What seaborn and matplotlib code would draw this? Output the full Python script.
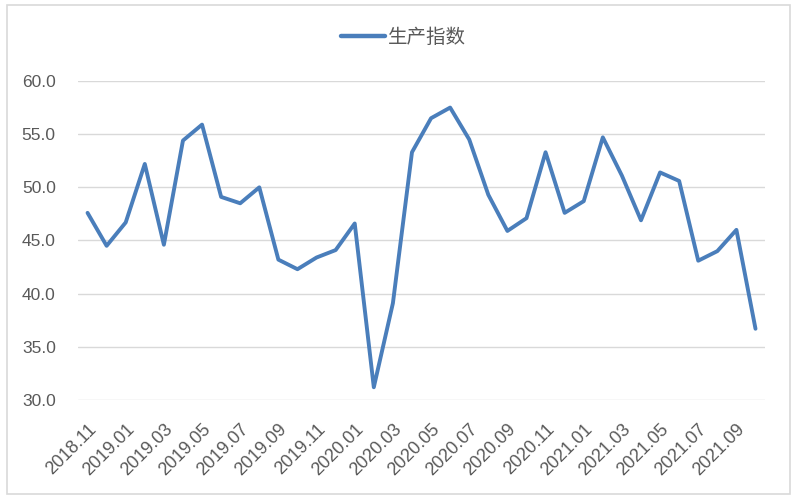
import numpy as np
import pandas as pd
import matplotlib.pyplot as plt
import seaborn as sns
from matplotlib.patches import Rectangle
from matplotlib.transforms import ScaledTranslation

# monthly index, 2018.11 - 2021.10
months = ['2018.11', '2018.12',
          '2019.01', '2019.02', '2019.03', '2019.04', '2019.05', '2019.06',
          '2019.07', '2019.08', '2019.09', '2019.10', '2019.11', '2019.12',
          '2020.01', '2020.02', '2020.03', '2020.04', '2020.05', '2020.06',
          '2020.07', '2020.08', '2020.09', '2020.10', '2020.11', '2020.12',
          '2021.01', '2021.02', '2021.03', '2021.04', '2021.05', '2021.06',
          '2021.07', '2021.08', '2021.09', '2021.10']
production_index = [47.6, 44.5, 46.7, 52.2, 44.6, 54.4, 55.9, 49.1, 48.5, 50.0,
                    43.2, 42.3, 43.4, 44.1, 46.6, 31.2, 39.1, 53.3, 56.5, 57.5,
                    54.5, 49.3, 45.9, 47.1, 53.3, 47.6, 48.7, 54.7, 51.1, 46.9,
                    51.4, 50.6, 43.1, 44.0, 46.0, 36.7]
series_name = '生产指数'
y_ticks = [30, 35, 40, 45, 50, 55, 60]

data = pd.DataFrame({'pos': np.arange(len(months)), 'month': months,
                     series_name: production_index})

sns.set_style('white')
plt.rcParams['font.family'] = ['Liberation Sans', 'Noto Sans CJK SC', 'DejaVu Sans']

fig = plt.figure(figsize=(8, 5), dpi=100)
ax = fig.add_axes([0.0975, 0.2, 0.8588, 0.638])

sns.lineplot(data=data, x='pos', y=series_name, ax=ax, color='#4a7ebb',
             linewidth=2.8, label=series_name, legend=False)

ax.set_xlim(-0.5, len(months) - 0.5)
ax.set_ylim(30, 60)
ax.set_yticks(y_ticks)
ax.set_yticklabels([f'{v:.1f}' for v in y_ticks], color='#595959', fontsize=12.5)
ax.yaxis.grid(True, color='#d9d9d9', linewidth=1)
ax.set_axisbelow(True)

ax.set_xticks(data['pos'][::2])
ax.set_xticklabels(data['month'][::2], rotation=45, ha='right',
                   rotation_mode='anchor', color='#595959', fontsize=13)
shift = ScaledTranslation(5 / 100, 0, fig.dpi_scale_trans)
for lab in ax.get_xticklabels():
    lab.set_transform(lab.get_transform() + shift)
ax.tick_params(axis='both', length=0)
ax.tick_params(axis='x', pad=15)
ax.tick_params(axis='y', pad=16)
ax.set_xlabel('')
ax.set_ylabel('')
for s in ax.spines.values():
    s.set_visible(False)

handles, labels = ax.get_lines(), [series_name]
leg = fig.legend(handles[:1], labels, loc='center', bbox_to_anchor=(403.5 / 800, 1 - 37 / 500),
                 frameon=False, handlelength=2.3, handletextpad=0.15,
                 prop={'family': ['Noto Sans CJK SC', 'DejaVu Sans'], 'size': 14})
for t in leg.get_texts():
    t.set_color('#595959')
for h in leg.legend_handles:
    h.set_linewidth(3.2)

# outer chart border
fig.patches.append(Rectangle((0.009, 0.012), 0.978, 0.978, transform=fig.transFigure,
                             fill=False, edgecolor='#d9d9d9', linewidth=1.2))

fig.savefig('out.png', dpi=100)
